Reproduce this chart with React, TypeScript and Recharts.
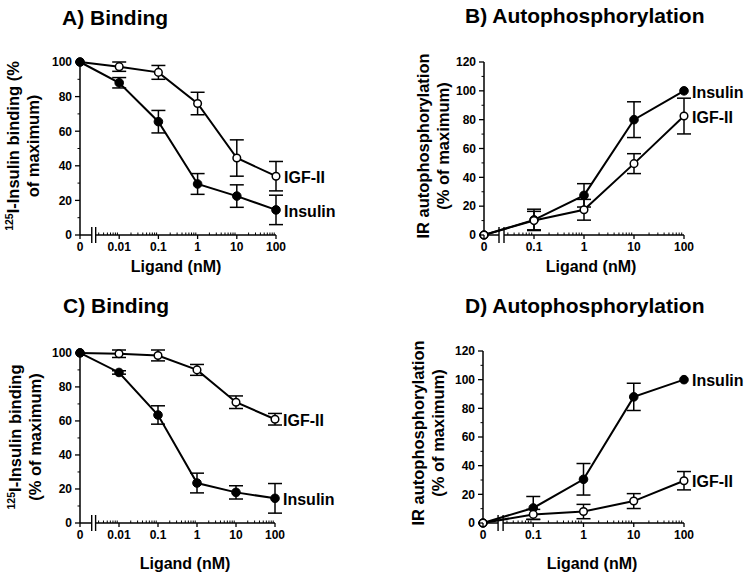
import React from 'react';
import { LineChart, Line, XAxis, YAxis, ErrorBar, LabelList, ReferenceLine } from 'recharts';

const FONT = '"Liberation Sans", Arial, Helvetica, sans-serif';

// ---- categories / tick labels ----
const bindingConc = [0, 0.01, 0.1, 1, 10, 100];
const bindingTickLabels = ['0', '0.01', '0.1', '1', '10', '100'];
const phosConc = [0, 0.1, 1, 10, 100];
const phosTickLabels = ['0', '0.1', '1', '10', '100'];

// ---- A) Binding ----
const aInsulin = [100, 88, 65.5, 29.5, 22.5, 14.5];
const aInsulinErr = [0, 3, 6.5, 6, 6.5, 8.5];
const aIgf = [100, 97.3, 94, 76, 44.5, 34];
const aIgfErr = [0, 2.7, 4, 6.5, 10.5, 8.5];

// ---- B) Autophosphorylation ----
const bInsulin = [0, 10.5, 27.5, 80, 100];
const bInsulinErr = [0, 7.4, 8.1, 12.4, 0];
const bIgf = [0, 10, 17.5, 49.5, 82.5];
const bIgfErr = [0, 6.4, 7.2, 6.9, 12.4];

// ---- C) Binding ----
const cInsulin = [100, 88.5, 63.5, 23.5, 18, 14.5];
const cInsulinErr = [0, 1, 5.4, 5.8, 3.9, 8.7];
const cIgf = [100, 99.5, 98.5, 90, 71, 61];
const cIgfErr = [0, 2.2, 3.2, 3.2, 3.7, 3.4];

// ---- D) Autophosphorylation ----
const dInsulin = [0, 10.5, 30.5, 88, 100];
const dInsulinErr = [0, 8, 11, 9.5, 0];
const dIgf = [0, 6, 8, 15.3, 29.5];
const dIgfErr = [0, 3.5, 5, 5.2, 6.4];

const yTicksBinding = [0, 10, 20, 30, 40, 50, 60, 70, 80, 90, 100];
const yTicksPhos = [0, 10, 20, 30, 40, 50, 60, 70, 80, 90, 100, 110, 120];

const X_TICK_SIZE = 4;
const X_TICK_MARGIN = 3;
const Y_TICK_SIZE = 5;
const Y_TICK_MARGIN = 3;

function logPositions(conc: number[]) {
  const minPos = Math.min(...conc.filter((c) => c > 0));
  const zero = Math.log10(minPos) - 1;
  return { zero, pos: conc.map((c) => (c === 0 ? zero : Math.log10(c))) };
}

function buildAxisInfo(conc: number[], labels: string[]) {
  const { zero, pos } = logPositions(conc);
  const maxPos = pos[pos.length - 1];
  const b1 = zero + 0.3;
  const b2 = zero + 0.4;
  const labelMap = new Map<number, string>();
  pos.forEach((p, i) => labelMap.set(p, labels[i]));
  const minor: number[] = [];
  const firstDecade = Math.round(pos[1]);
  for (let k = firstDecade - 1; k < Math.round(maxPos); k++) {
    for (let m = 2; m <= 9; m++) {
      const p = k + Math.log10(m);
      if (p > b2 + 0.05 && p < maxPos) minor.push(p);
    }
  }
  const ticks = [...pos, b1, b2, ...minor];
  return { zero, pos, maxPos, b1, b2, labelMap, breaks: [b1, b2], ticks };
}

function XTick(props: any) {
  const { x, y, payload, info } = props;
  const v = payload.value;
  const axisY = y - X_TICK_SIZE - X_TICK_MARGIN;
  const lbl = info.labelMap.get(v);
  if (lbl !== undefined) {
    return (
      <g>
        <line x1={x} x2={x} y1={axisY} y2={axisY + X_TICK_SIZE} stroke="#000" strokeWidth={1.3} />
        <text x={x} y={y} dy="0.71em" textAnchor="middle" fontFamily={FONT} fontWeight={700} fontSize={12} fill="#000">
          {lbl}
        </text>
      </g>
    );
  }
  if (info.breaks.includes(v)) {
    return <line x1={x} x2={x} y1={axisY - 8} y2={axisY + 8} stroke="#000" strokeWidth={1.4} />;
  }
  return <line x1={x} x2={x} y1={axisY} y2={axisY - 2.5} stroke="#000" strokeWidth={1} />;
}

function YTick(props: any) {
  const { x, y, payload } = props;
  const v = payload.value;
  const axisX = x + Y_TICK_SIZE + Y_TICK_MARGIN;
  if (v % 20 === 0) {
    return (
      <g>
        <line x1={axisX - Y_TICK_SIZE} x2={axisX} y1={y} y2={y} stroke="#000" strokeWidth={1.3} />
        <text x={x} y={y} dy="0.36em" textAnchor="end" fontFamily={FONT} fontWeight={700} fontSize={12} fill="#000">
          {v}
        </text>
      </g>
    );
  }
  return <line x1={axisX - 2.5} x2={axisX} y1={y} y2={y} stroke="#000" strokeWidth={1} />;
}

const endLabel = (p: any) => {
  if (!p.value) return null;
  const vb = p.viewBox || {};
  const x = vb.x ?? p.x;
  const y = vb.y ?? p.y;
  return (
    <text x={x + 8} y={y + 1} dy="0.36em" textAnchor="start" fontFamily={FONT} fontWeight={700} fontSize={16} fill="#000">
      {p.value}
    </text>
  );
};

type PanelProps = {
  left: number;
  top: number;
  plotLeft: number;
  plotTop: number;
  plotRight: number;
  plotBottom: number;
  conc: number[];
  tickLabels: string[];
  insulin: number[];
  insulinErr: number[];
  igf: number[];
  igfErr: number[];
  yMax: number;
  yTicks: number[];
  insulinOnTop: boolean;
};

function Panel(p: PanelProps) {
  const W = 378;
  const H = 290;
  const info = buildAxisInfo(p.conc, p.tickLabels);
  const last = p.conc.length - 1;
  const data = p.conc.map((c, i) => ({
    x: info.pos[i],
    ins: p.insulin[i],
    insErr: p.insulinErr[i],
    igf: p.igf[i],
    igfErr: p.igfErr[i],
    insLabel: i === last ? 'Insulin' : null,
    igfLabel: i === last ? 'IGF-II' : null,
  }));
  const insLine = (
    <Line
      key="ins"
      dataKey="ins"
      type="linear"
      stroke="#000"
      strokeWidth={2}
      dot={{ r: 4.3, fill: '#000', stroke: '#000', strokeWidth: 1 }}
      isAnimationActive={false}
    >
      <ErrorBar dataKey="insErr" width={7} strokeWidth={1.5} stroke="#000" direction="y" />
      <LabelList dataKey="insLabel" content={endLabel} />
    </Line>
  );
  const igfLine = (
    <Line
      key="igf"
      dataKey="igf"
      type="linear"
      stroke="#000"
      strokeWidth={2}
      dot={{ r: 3.8, fill: '#fff', stroke: '#000', strokeWidth: 1.5 }}
      isAnimationActive={false}
    >
      <ErrorBar dataKey="igfErr" width={7} strokeWidth={1.5} stroke="#000" direction="y" />
      <LabelList dataKey="igfLabel" content={endLabel} />
    </Line>
  );
  const xAxisH = 30;
  return (
    <div style={{ position: 'absolute', left: p.left, top: p.top, width: W, height: H }}>
      <LineChart
        width={W}
        height={H}
        data={data}
        margin={{ top: p.plotTop, right: W - p.plotRight, bottom: H - p.plotBottom - xAxisH, left: 0 }}
      >
        <XAxis
          type="number"
          dataKey="x"
          domain={[info.zero, info.maxPos]}
          ticks={info.ticks}
          interval={0}
          axisLine={false}
          tickLine={false}
          tickSize={X_TICK_SIZE}
          tickMargin={X_TICK_MARGIN}
          height={xAxisH}
          tick={(tp: any) => <XTick {...tp} info={info} />}
        />
        <YAxis
          type="number"
          domain={[0, p.yMax]}
          ticks={p.yTicks}
          interval={0}
          width={p.plotLeft}
          axisLine={{ stroke: '#000', strokeWidth: 1.5 }}
          tickLine={false}
          tickSize={Y_TICK_SIZE}
          tickMargin={Y_TICK_MARGIN}
          tick={(tp: any) => <YTick {...tp} />}
        />
        <ReferenceLine
          segment={[{ x: info.zero, y: 0 }, { x: info.b1, y: 0 }]}
          stroke="#000"
          strokeWidth={1.5}
        />
        <ReferenceLine
          segment={[{ x: info.b2, y: 0 }, { x: info.maxPos, y: 0 }]}
          stroke="#000"
          strokeWidth={1.5}
        />
        {p.insulinOnTop ? [igfLine, insLine] : [insLine, igfLine]}
      </LineChart>
    </div>
  );
}

const textBase: React.CSSProperties = {
  position: 'absolute',
  fontFamily: FONT,
  fontWeight: 700,
  color: '#000',
  whiteSpace: 'nowrap',
  lineHeight: 1,
};

function Title({ x, y, text }: { x: number; y: number; text: string }) {
  return <div style={{ ...textBase, left: x, top: y, fontSize: 21 }}>{text}</div>;
}

function XLabel({ cx, cy, text }: { cx: number; cy: number; text: string }) {
  return (
    <div style={{ ...textBase, left: cx, top: cy, fontSize: 16, transform: 'translate(-50%,-50%)' }}>{text}</div>
  );
}

function YLabel({ cx, cy, children }: { cx: number; cy: number; children: React.ReactNode }) {
  return (
    <div
      style={{
        ...textBase,
        left: cx,
        top: cy,
        fontSize: 16.5,
        transform: 'translate(-50%,-50%) rotate(-90deg)',
      }}
    >
      {children}
    </div>
  );
}

const Sup = () => (
  <span style={{ fontSize: 10.5, position: 'relative', top: -6 }}>125</span>
);

export default function App() {
  return (
    <div style={{ position: 'absolute', left: 0, top: 0, width: 756, height: 580, background: '#fff', overflow: 'hidden' }}>
      <Panel
        left={0}
        top={0}
        plotLeft={80}
        plotTop={62}
        plotRight={276}
        plotBottom={235}
        conc={bindingConc}
        tickLabels={bindingTickLabels}
        insulin={aInsulin}
        insulinErr={aInsulinErr}
        igf={aIgf}
        igfErr={aIgfErr}
        yMax={100}
        yTicks={yTicksBinding}
        insulinOnTop={true}
      />
      <Panel
        left={378}
        top={0}
        plotLeft={106}
        plotTop={62}
        plotRight={306}
        plotBottom={235}
        conc={phosConc}
        tickLabels={phosTickLabels}
        insulin={bInsulin}
        insulinErr={bInsulinErr}
        igf={bIgf}
        igfErr={bIgfErr}
        yMax={120}
        yTicks={yTicksPhos}
        insulinOnTop={false}
      />
      <Panel
        left={0}
        top={290}
        plotLeft={80}
        plotTop={60}
        plotRight={275}
        plotBottom={233}
        conc={bindingConc}
        tickLabels={bindingTickLabels}
        insulin={cInsulin}
        insulinErr={cInsulinErr}
        igf={cIgf}
        igfErr={cIgfErr}
        yMax={100}
        yTicks={yTicksBinding}
        insulinOnTop={true}
      />
      <Panel
        left={378}
        top={290}
        plotLeft={105}
        plotTop={61}
        plotRight={306}
        plotBottom={233}
        conc={phosConc}
        tickLabels={phosTickLabels}
        insulin={dInsulin}
        insulinErr={dInsulinErr}
        igf={dIgf}
        igfErr={dIgfErr}
        yMax={120}
        yTicks={yTicksPhos}
        insulinOnTop={false}
      />

      <Title x={62} y={7} text="A) Binding" />
      <Title x={465} y={5} text="B) Autophosphorylation" />
      <Title x={63} y={295} text="C) Binding" />
      <Title x={465} y={295} text="D) Autophosphorylation" />

      <XLabel cx={176} cy={267} text="Ligand (nM)" />
      <XLabel cx={591} cy={267} text="Ligand (nM)" />
      <XLabel cx={185} cy={564} text="Ligand (nM)" />
      <XLabel cx={592} cy={564} text="Ligand (nM)" />

      <YLabel cx={13} cy={146}>
        <Sup />I-Insulin binding (%
      </YLabel>
      <YLabel cx={33} cy={146}>of maximum)</YLabel>
      <YLabel cx={423} cy={146}>IR autophosphorylation</YLabel>
      <YLabel cx={443} cy={146}>(% of maximum)</YLabel>
      <YLabel cx={15} cy={437}>
        <Sup />I-Insulin binding
      </YLabel>
      <YLabel cx={35} cy={437}>(% of maximum)</YLabel>
      <YLabel cx={418} cy={433}>IR autophosphorylation</YLabel>
      <YLabel cx={438} cy={433}>(% of maximum)</YLabel>
    </div>
  );
}
